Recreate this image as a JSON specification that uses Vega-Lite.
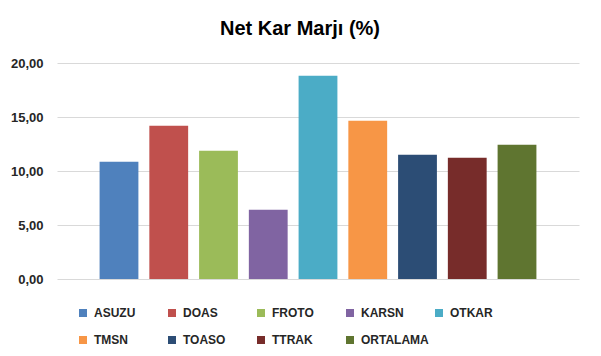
{
  "$schema": "https://vega.github.io/schema/vega-lite/v6.json",
  "autosize": {"type": "none"},
  "width": 522,
  "height": 216,
  "padding": {"left": 57, "top": 63, "right": 22, "bottom": 77},
  "background": "white",
  "title": {
    "text": "Net Kar Marjı (%)",
    "font": "Liberation Sans",
    "fontSize": 20,
    "fontWeight": "bold",
    "color": "#000000",
    "anchor": "middle",
    "dx": -18,
    "offset": 18
  },
  "data": {
    "values": [
      {"hisse": "ASUZU", "deger": 10.86},
      {"hisse": "DOAS", "deger": 14.19},
      {"hisse": "FROTO", "deger": 11.88},
      {"hisse": "KARSN", "deger": 6.42},
      {"hisse": "OTKAR", "deger": 18.82},
      {"hisse": "TMSN", "deger": 14.66},
      {"hisse": "TOASO", "deger": 11.51},
      {"hisse": "TTRAK", "deger": 11.23},
      {"hisse": "ORTALAMA", "deger": 12.43}
    ]
  },
  "mark": {"type": "bar"},
  "encoding": {
    "x": {
      "field": "hisse",
      "type": "nominal",
      "sort": null,
      "axis": null,
      "scale": {"paddingInner": 0.22, "paddingOuter": 0.856}
    },
    "y": {
      "field": "deger",
      "type": "quantitative",
      "scale": {"domain": [0, 20], "nice": false},
      "axis": {
        "title": null,
        "values": [0, 5, 10, 15, 20],
        "labelExpr": "replace(format(datum.value, '.2f'), '.', ',')",
        "domain": false,
        "ticks": false,
        "grid": true,
        "gridColor": "#d9d9d9",
        "gridWidth": 1,
        "labelPadding": 14,
        "labelFont": "Liberation Sans",
        "labelFontSize": 13,
        "labelFontWeight": "bold",
        "labelColor": "#262626"
      }
    },
    "color": {
      "field": "hisse",
      "type": "nominal",
      "sort": null,
      "scale": {
        "domain": ["ASUZU", "DOAS", "FROTO", "KARSN", "OTKAR", "TMSN", "TOASO", "TTRAK", "ORTALAMA"],
        "range": ["#4F81BD", "#C0504D", "#9BBB59", "#8064A2", "#4BACC6", "#F79646", "#2C4D75", "#772C2A", "#5F7530"]
      },
      "legend": {
        "title": null,
        "orient": "none",
        "legendX": 20,
        "legendY": 244,
        "direction": "horizontal",
        "columns": 5,
        "gridAlign": "all",
        "columnPadding": 4,
        "rowPadding": 15,
        "padding": 0,
        "symbolType": "square",
        "symbolSize": 64,
        "symbolStrokeWidth": 0,
        "labelOffset": 5,
        "labelFont": "Liberation Sans",
        "labelFontSize": 12,
        "labelFontWeight": "bold",
        "labelColor": "#262626",
        "labelLimit": 200
      }
    }
  },
  "config": {
    "view": {"stroke": null}
  }
}
